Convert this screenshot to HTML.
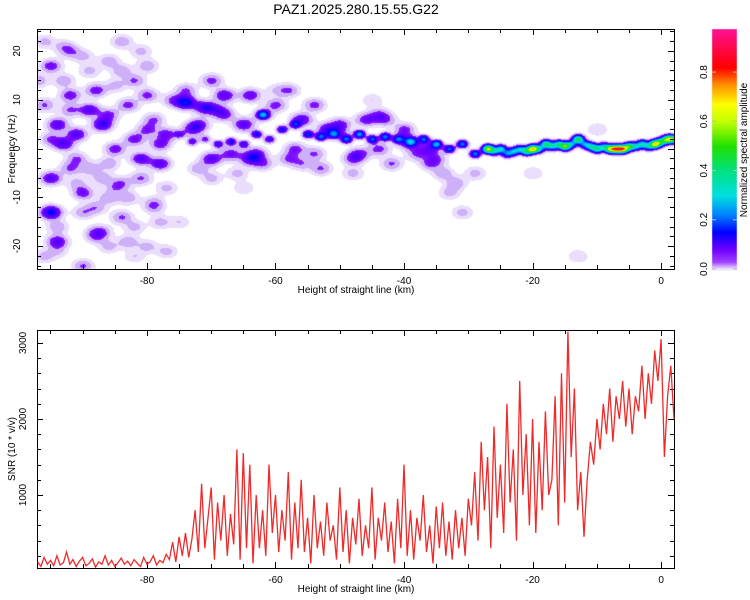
<!DOCTYPE html>
<html><head><meta charset="utf-8">
<style>
html,body{margin:0;padding:0;background:#fff;width:750px;height:600px;overflow:hidden;font-family:"Liberation Sans",sans-serif}
#wrap{position:relative;width:750px;height:600px}
canvas{position:absolute}
svg{position:absolute;left:0;top:0}
text{font-family:"Liberation Sans",sans-serif;fill:#000}
</style></head>
<body>
<div id="wrap">
<canvas id="spec" width="637" height="240" style="left:37px;top:29px"></canvas>
<canvas id="cbar" width="25" height="241" style="left:712px;top:29px"></canvas>
<svg id="svg" width="750" height="600"></svg>
</div>
<script>
// ---- spectrogram data ----
const ridgeHeights=[-75,-73,-71,-69,-67,-65,-63,-62,-61,-59,-57,-55,-53,-51,-49,-47,-45,-43,-41,-39,-37,-35,-33,-31,-29,-27,-26,-25,-24,-23,-22,-21,-20,-19,-18,-17,-16,-15,-14,-13,-12,-11,-10,-9,-8,-7,-6,-5,-4,-3,-2,-1,0,1,2];
const ridgeFreqs=[3,1.5,2,1,1.5,1,3,7,2,4,5,3,2.5,3,2,3,2,2.5,2,1.5,2,1,0,1,-1,0,-0.5,0,-1,-0.5,0,-0.5,0,0,1,0.5,1,0.5,1,2,1,0.5,0,0.5,0,0,0,0.5,0.5,1,0.5,1,1.5,2,2];
const ridgeAmps=[0.08,0.1,0.08,0.12,0.14,0.12,0.15,0.22,0.12,0.15,0.15,0.18,0.2,0.18,0.2,0.25,0.2,0.22,0.18,0.22,0.2,0.25,0.2,0.22,0.22,0.6,0.22,0.3,0.2,0.25,0.22,0.35,0.65,0.22,0.4,0.25,0.3,0.5,0.22,0.45,0.22,0.3,0.35,0.22,0.55,0.65,0.65,0.4,0.22,0.3,0.22,0.65,0.35,0.55,0.4];
const blobHeights=[-95,-94,-93,-95,-95,-94,-92,-91,-90,-89,-88,-87,-86,-85,-84,-86,-83,-82,-81,-80,-80,-79,-78,-77,-76,-74,-72,-71,-70,-68,-67,-65,-64,-62,-60,-58,-56,-54,-52,-50,-48,-46,-44,-42,-40,-38,-36,-34,-33,-31,-29,-86,-90,-82,-92,-97,-88,-84,-77,-70,-60,-13,-20,-10,-45,-75,-65,
 -96,-93,-91,-89,-87,-85,-83,-81,-79,-96,-94,-92,-90,-88,-86,-84,-82,-80,-78,-96,-93,-90,-87,-84,-81,-78,-95,-92,-89,-86,-83,-80,-77,-74,-72,-70,-68,-66,-64,-62,-58,-56,-54,-50,-48,-44,-40,-36,-32,-73,-69,-63,-57,-53,-47,-43,-39,-35,-91,-85,-79,-94,-88,-82];
const blobFreqs=[17,5,1,-6,-13,-19,11,3,-9,8,12,5,-3,0,-14,18,9,2,-2,11,17,6,-3,3,10,9.5,5,8.5,-2,11,-1,5,-2,-3,9,-2,6,-1,4,5,-2,6,0,-3,4,-1,-3,-5,-9,-13,-5,-20,-24,-16,20,14,-12,22,-8,-6,12,-22,-5,4,10,-15,-8,
 22,14,-2,16,-6,13,-10,20,-12,9,-16,-4,19,-18,7,-7,14,-20,1,-22,21,-13,-17,16,-6,-15,2,8,-4,-10,-19,4,-21,12,-4,14,7,-5,11,7,12,-3,9,3,-5,7,2,0,-7,4,8,-1,0,-4,-1,6,1,-2,-7,-8,-11,-21,-17,-22];
const blobAmps=[.08,.1,.1,.1,.15,.1,.08,.1,.08,.1,.08,.12,.05,.08,.06,.05,.07,.08,.1,.07,.05,.06,.1,.08,.06,.15,.08,.12,.1,.1,.08,.1,.1,.06,.07,.06,.1,.06,.1,.08,.07,.08,.07,.06,.07,.06,.06,.05,.04,.04,.04,.04,.06,.04,.05,.05,.05,.05,.04,.04,.03,.03,.03,.03,.03,.03,.03,
 .04,.05,.06,.04,.05,.04,.05,.04,.04,.06,.05,.06,.04,.05,.07,.05,.06,.04,.08,.04,.04,.05,.04,.05,.06,.04,.06,.06,.05,.05,.05,.07,.04,.06,.05,.07,.07,.04,.09,.06,.06,.05,.07,.05,.04,.06,.06,.08,.05,.08,.06,.08,.07,.06,.07,.06,.07,.05,.04,.04,.04,.03,.04,.03];
// ---- SNR data (every 0.5 km from -97) ----
const snrStart=-97, snrStep=0.5;
const snrValues=[120,60,180,90,140,70,200,80,110,250,90,150,60,130,180,70,100,160,50,120,90,200,80,140,60,110,170,90,130,70,150,100,60,180,90,120,200,80,140,110,220,
150,380,120,450,200,500,180,420,
800,250,1150,300,700,1100,150,900,400,1000,200,750,350,1600,150,1550,300,1400,100,1000,300,800,200,1400,500,1000,250,800,400,1300,150,900,300,1200,250,700,100,1000,300,650,200,900,400,600,150,1100,250,800,100,700,350,950,200,600,300,1100,150,700,400,900,250,650,100,950,300,1400,200,800,150,700,400,1000,250,600,100,850,300,900,200,650,150,800,300,700,200,950,
600,1300,400,1700,800,1500,300,1900,700,1400,500,2200,900,1600,400,2500,1000,1800,600,2000,500,1700,800,2100,1000,
1200,2300,600,2600,900,3150,1500,2400,800,1300,450,
1200,1700,1400,2000,1600,2200,1800,2400,1700,2300,2000,2500,1900,2400,1800,2300,2100,2700,2000,2600,2200,2900,2500,3050,1500,2300,2700,2000];
const xTicks=[-80,-60,-40,-20,0];
const fTicks=[-20,-10,0,10,20];
const snrTicks=[1000,2000,3000];
const cbTicks=[0,0.2,0.4,0.6,0.8];

const X0=37,X1=674,HMIN=-97.1,HMAX=2.0;
const xs=h=>X0+(h-HMIN)/(HMAX-HMIN)*(X1-X0);
const FY0=29,FY1=269,FMIN=-24.7,FMAX=24.5;
const fy=f=>FY1-(f-FMIN)/(FMAX-FMIN)*(FY1-FY0);
const SY0=330,SY1=568,SMIN=40,SMAX=3170;
const sy=v=>SY1-(v-SMIN)/(SMAX-SMIN)*(SY1-SY0);
const CMAX=0.975;
const stops=[[0,[244,236,255]],[0.03,[160,64,255]],[0.08,[112,0,255]],[0.15,[0,0,255]],[0.22,[0,128,255]],[0.3,[0,224,224]],[0.4,[0,224,128]],[0.5,[32,224,0]],[0.6,[192,255,0]],[0.67,[255,255,0]],[0.75,[255,144,0]],[0.82,[255,0,0]],[0.97,[255,16,144]]];
function cmap(v){
  if(v<=stops[0][0])return stops[0][1];
  for(let i=1;i<stops.length;i++){if(v<=stops[i][0]){const a=stops[i-1],b=stops[i];const t=(v-a[0])/(b[0]-a[0]);return a[1].map((c,k)=>Math.round(c+(b[1][k]-c)*t));}}
  return stops[stops.length-1][1];
}
(function(){
  const c=document.getElementById('spec'),ctx=c.getContext('2d');
  const W=c.width,H=c.height,img=ctx.createImageData(W,H),d=img.data;
  const field=new Float32Array(W*H);
  function add(h,f,a,sx,sf){
    const px=xs(h)-X0,py=fy(f)-FY0;
    const rx=sx*3,ry=sf*3;
    for(let y=Math.max(0,Math.floor(py-ry));y<Math.min(H,py+ry);y++)
      for(let x=Math.max(0,Math.floor(px-rx));x<Math.min(W,px+rx);x++){
        const dx=(x-px)/sx,dy=(y-py)/sf;
        field[y*W+x]+=a*Math.exp(-0.5*(dx*dx+dy*dy));
      }
  }
  for(let i=0;i<blobHeights.length;i++)add(blobHeights[i],blobFreqs[i],blobAmps[i],7,4.5);
  for(let i=0;i<ridgeHeights.length;i++)add(ridgeHeights[i],ridgeFreqs[i],ridgeAmps[i],3.6,2.6);
  for(let i=0;i<W*H;i++){
    const v=field[i];let col;
    if(v<0.012)col=[255,255,255];
    else if(v<0.03)col=[234,222,252];
    else if(v<0.055)col=[206,176,248];
    else col=cmap(v);
    d[i*4]=col[0];d[i*4+1]=col[1];d[i*4+2]=col[2];d[i*4+3]=255;
  }
  ctx.putImageData(img,0,0);
  const cb=document.getElementById('cbar'),cc=cb.getContext('2d');
  for(let y=0;y<cb.height;y++){const v=(cb.height-1-y)/(cb.height-1)*CMAX;const col=cmap(v);cc.fillStyle=`rgb(${col})`;cc.fillRect(0,y,25,1);}
})();
const NS='http://www.w3.org/2000/svg',svg=document.getElementById('svg');
function el(tag,attrs,parent){const e=document.createElementNS(NS,tag);for(const k in attrs)e.setAttribute(k,attrs[k]);(parent||svg).appendChild(e);return e;}
function txt(s,attrs){const t=el('text',attrs);t.textContent=s;return t;}
let t=txt('PAZ1.2025.280.15.55.G22',{x:356,y:14,'font-size':14,'text-anchor':'middle'});


function frame(y0,y1,name){
  const r=el('rect',{x:X0+0.5,y:y0+0.5,width:X1-X0,height:y1-y0,fill:'none',stroke:'#000','stroke-width':1});
  
  
  for(let h=-95;h<=0;h+=5){const x=Math.round(xs(h))+0.5;const L=(h%20===0)?6:4;
    el('line',{x1:x,x2:x,y1:y1,y2:y1-L,stroke:'#000'});el('line',{x1:x,x2:x,y1:y0,y2:y0+L,stroke:'#000'});}
  for(const h of xTicks){const l=txt(String(h),{x:xs(h),y:y1+15,'font-size':10,'text-anchor':'middle'});
    
    }
  const at=txt('Height of straight line (km)',{x:356,y:y1+24,'font-size':10,'text-anchor':'middle'});
  
  
}
frame(FY0,FY1,'spectrogram-frame');
frame(SY0,SY1,'snr-frame');
for(let f=-24;f<=24;f+=2){const y=Math.round(fy(f))+0.5;const L=(f%10===0)?6:4;
  el('line',{x1:X0,x2:X0+L,y1:y,y2:y,stroke:'#000'});el('line',{x1:X1,x2:X1-L,y1:y,y2:y,stroke:'#000'});}
for(const f of fTicks){const y=fy(f);const l=txt(String(f),{x:20,y:y,'font-size':10,'text-anchor':'middle',transform:`rotate(-90 20 ${y})`});
  
  }
t=txt('Frequency (Hz)',{x:15,y:149,'font-size':10,'text-anchor':'middle',transform:'rotate(-90 15 149)'});


for(let v=200;v<=3100;v+=200){const y=Math.round(sy(v))+0.5;const L=(v%1000===0)?6:4;
  el('line',{x1:X0,x2:X0+L,y1:y,y2:y,stroke:'#000'});el('line',{x1:X1,x2:X1-L,y1:y,y2:y,stroke:'#000'});}
for(const v of snrTicks){const y=sy(v);const l=txt(String(v),{x:26,y:y,'font-size':10,'text-anchor':'middle',transform:`rotate(-90 26 ${y})`});
  
  }
t=txt('SNR (10 * v/v)',{x:15,y:449,'font-size':10,'text-anchor':'middle',transform:'rotate(-90 15 449)'});


let dstr='';snrValues.forEach((v,i)=>{const h=snrStart+i*snrStep;dstr+=(i?'L':'M')+xs(h).toFixed(1)+','+sy(v).toFixed(1);});
const p=el('path',{d:dstr,fill:'none',stroke:'#ee2a2a','stroke-width':1.3});


const CB0=29,CB1=269;const cy=v=>CB1-v/CMAX*(CB1-CB0);
el('rect',{x:712,y:29,width:25,height:241,fill:'none',stroke:'#ddd','stroke-width':0.5});
for(const v of cbTicks){const y=cy(v);
  el('line',{x1:712,x2:716,y1:y,y2:y,stroke:'#bbb'});el('line',{x1:733,x2:737,y1:y,y2:y,stroke:'#bbb'});
  const l=txt(v.toFixed(1),{x:707,y:y,'font-size':10,'text-anchor':'middle',transform:`rotate(-90 707 ${y})`});
  
  }
t=txt('Normalized spectral amplitude',{x:747,y:150,'font-size':10,'text-anchor':'middle',transform:'rotate(-90 747 150)'});


</script>
</body></html>
